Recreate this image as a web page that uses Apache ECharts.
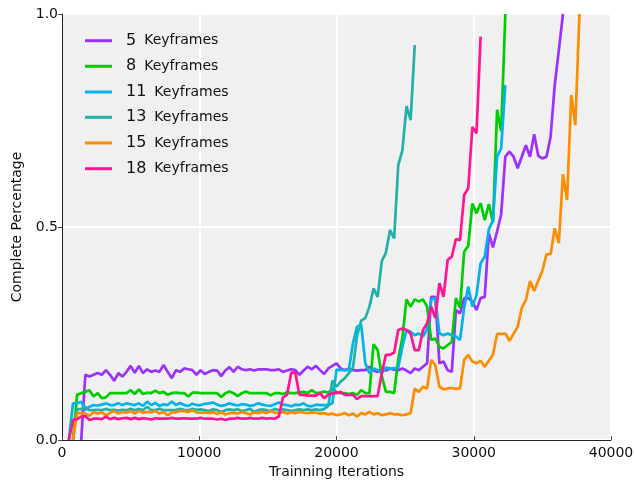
<!DOCTYPE html>
<html><head><meta charset="utf-8">
<script src="https://cdn.jsdelivr.net/npm/echarts@6/dist/echarts.min.js"></script>
<style>html,body{margin:0;padding:0;background:#fff}#c{width:634px;height:480px}</style>
</head><body><div id="c"></div>
<script>
// Training iterations: first sample at ITER_START, then every ITER_STEP
const ITER_START = 200, ITER_STEP = 300;
const seriesNames = ['5 Keyframes','8 Keyframes','11 Keyframes','13 Keyframes','15 Keyframes','18 Keyframes'];
const xTicks = [0, 10000, 20000, 30000, 40000];
const yTicks = [0, 0.5, 1.0];

const kf5 = [null,null,null,null,0,
 0.153,0.149,0.153,0.157,0.153,0.164,0.153,0.139,0.157,0.149,0.16,0.174,0.158,0.174,0.157,0.166,0.16,0.163,0.16,0.176,0.16,0.145,0.164,0.16,0.168,0.166,0.164,0.153,
 0.164,0.155,0.16,0.164,0.163,0.15,0.163,0.171,0.16,0.172,0.166,0.164,0.166,0.163,0.166,0.166,0.166,0.164,0.164,0.166,0.16,0.163,0.166,0.164,0.153,0.163,0.172,0.166,0.174,0.164,0.155,0.168,0.174,
 0.18,0.168,0.164,0.168,0.164,0.163,0.164,0.164,0.172,0.163,0.16,0.168,0.163,0.168,0.165,0.164,0.168,0.163,0.157,0.168,0.164,0.172,0.18,
 0.336,0.336,0.18,0.184,0.164,0.16,0.305,0.297,0.333,0.333,0.325,0.305,0.333,0.336,0.485,0.452,0.49,0.53,0.665,0.677,0.665,0.638,0.665,0.692,0.665,0.718,0.667,0.661,0.665,0.712,0.833,0.915,1.0];

const kf8 = [null,null,0,
 0.106,0.11,0.113,0.117,0.102,0.11,0.098,0.10,0.11,0.11,0.11,0.11,0.11,0.117,0.108,0.119,0.108,0.111,0.11,0.116,0.11,0.113,0.106,0.11,0.111,0.11,0.11,0.102,0.111,0.111,
 0.11,0.11,0.11,0.11,0.11,0.101,0.11,0.114,0.11,0.103,0.11,0.114,0.11,0.11,0.11,0.11,0.11,0.105,0.11,0.11,0.108,0.112,0.11,0.11,0.112,0.113,0.11,0.117,0.11,0.111,0.114,0.111,0.12,
 0.113,0.11,0.11,0.108,0.11,0.106,0.117,0.11,0.11,
 0.225,0.211,0.15,0.113,0.113,0.11,0.19,0.24,0.33,0.313,0.33,0.325,0.33,0.313,0.235,0.238,0.219,0.215,0.223,0.23,0.333,0.31,0.442,0.456,0.555,0.532,0.556,0.516,0.554,0.51,0.775,0.725,1.0];

const kf11 = [null,
 0,0.086,0.086,0.09,0.07,0.078,0.082,0.081,0.083,0.086,0.082,0.082,0.086,0.082,0.086,0.084,0.082,0.086,0.08,0.09,0.082,0.087,0.08,0.084,0.082,0.09,0.082,0.087,0.082,0.08,0.085,0.082,
 0.082,0.085,0.086,0.088,0.083,0.08,0.082,0.086,0.083,0.081,0.084,0.083,0.08,0.082,0.086,0.083,0.081,0.08,0.084,0.088,0.083,0.082,0.079,0.083,0.082,0.086,0.08,0.079,0.083,0.082,0.082,0.082,0.086,
 0.165,0.164,0.164,0.164,0.227,0.266,0.27,0.18,0.157,0.168,0.164,0.157,0.17,0.168,0.168,0.17,0.219,0.258,0.254,0.246,0.25,0.243,0.26,0.33,0.333,0.25,0.246,0.25,0.246,0.243,0.235,0.31,0.36,0.313,0.34,0.415,0.43,0.495,0.515,0.665,0.685,0.833];

const kf13 = [null,null,0,
 0.072,0.073,0.078,0.07,0.07,0.071,0.07,0.073,0.07,0.071,0.069,0.071,0.07,0.073,0.07,0.073,0.07,0.078,0.07,0.071,0.073,0.07,0.07,0.07,0.071,0.073,0.071,0.07,0.073,0.071,
 0.072,0.07,0.068,0.072,0.07,0.066,0.07,0.072,0.07,0.072,0.068,0.07,0.073,0.066,0.07,0.072,0.07,0.068,0.073,0.07,0.072,0.07,0.068,0.07,0.072,0.07,0.072,0.07,0.072,0.07,0.073,0.08,
 0.14,0.125,0.137,0.145,0.157,0.17,0.245,0.28,0.286,0.313,0.356,0.336,0.42,0.44,0.493,0.473,0.645,0.68,0.784,0.751,0.927];

const kf15 = [null,null,0,
 0.063,0.063,0.062,0.057,0.065,0.062,0.065,0.058,0.063,0.068,0.062,0.066,0.064,0.068,0.062,0.068,0.064,0.066,0.065,0.068,0.062,0.066,0.058,0.065,0.065,0.068,0.068,0.066,0.07,0.065,
 0.064,0.065,0.063,0.066,0.061,0.065,0.06,0.063,0.064,0.062,0.066,0.063,0.06,0.065,0.063,0.066,0.063,0.068,0.064,0.063,0.066,0.062,0.065,0.063,0.066,0.064,0.063,0.065,0.064,0.062,0.063,0.06,0.062,
 0.058,0.06,0.063,0.058,0.062,0.055,0.063,0.06,0.066,0.06,0.063,0.058,0.06,0.063,0.06,0.06,0.058,0.06,0.063,
 0.121,0.113,0.125,0.121,0.188,0.176,0.125,0.119,0.121,0.122,0.12,0.121,0.188,0.2,0.184,0.18,0.186,0.172,0.186,0.2,0.249,0.249,0.25,0.233,0.249,0.266,0.31,0.329,0.373,0.35,0.374,0.397,0.436,0.436,0.497,0.462,0.624,0.563,0.81,0.739,1.0];

const kf18 = [null,0,0.047,0.049,0.055,0.056,0.047,
 0.05,0.05,0.049,0.055,0.049,0.052,0.049,0.051,0.052,0.049,0.052,0.049,0.051,0.05,0.048,0.051,0.05,0.05,0.05,0.052,0.05,0.05,0.051,0.05,0.05,0.05,
 0.052,0.05,0.05,0.05,0.048,0.05,0.047,0.05,0.05,0.052,0.05,0.05,0.052,0.05,0.05,0.052,0.05,0.051,0.05,0.055,
 0.10,0.106,0.158,0.158,0.106,0.106,0.104,0.104,0.104,0.11,0.098,0.106,0.11,
 0.11,0.113,0.106,0.106,0.106,0.096,0.103,0.103,0.103,0.103,0.103,0.157,0.2,0.2,0.205,0.258,0.262,0.258,0.25,0.211,0.211,0.258,0.274,0.313,0.286,0.368,0.336,0.423,0.43,0.472,0.469,0.575,0.591,0.735,0.72,0.947];

const allValues = [kf5, kf8, kf11, kf13, kf15, kf18];
const colors = ['#9b30ff','#00cd00','#00b2ee','#20b2aa','#ff8c00','#ff1493'];
const FONT = 'DejaVu Sans';

function toPoints(vals){
  const out = [];
  vals.forEach((v,i)=>{ if(v!==null) out.push([ITER_START + i*ITER_STEP, v]); });
  return out;
}

const legendCenters = [37.7, 63.3, 89, 114.3, 140, 165.7];
const legends = seriesNames.map((n,i)=>({
  data:[n], left:80, top: legendCenters[i]-10, selectedMode:false,
  icon:'rect', itemWidth:27, itemHeight:3,
  formatter: name => { const p = name.split(' '); return '{n|'+p[0]+'}{k|'+p[1]+'}'; },
  textStyle:{ rich:{
    n:{fontFamily:FONT, fontSize:16, color:'#111', padding:[0,8,0,9]},
    k:{fontFamily:FONT, fontSize:14, color:'#111'}
  }}
}));

const chart = echarts.init(document.getElementById('c'), null, {renderer:'canvas'});
chart.setOption({
  animation:false,
  backgroundColor:'#ffffff',
  color: colors,
  grid:{left:62, right:23, top:14, bottom:40, show:true, backgroundColor:'#f0f0f0', borderWidth:0,
        containLabel:false, outerBoundsMode:'none'},
  legend: legends,
  xAxis:{
    type:'value', min:xTicks[0], max:xTicks[xTicks.length-1], interval:10000,
    name:'Trainning Iterations', nameLocation:'middle', nameGap:23,
    nameTextStyle:{fontFamily:FONT, fontSize:14, color:'#111'},
    axisLine:{show:true, lineStyle:{color:'#222', width:1}},
    axisTick:{show:true, inside:true, length:4, lineStyle:{color:'#444'}},
    axisLabel:{fontFamily:FONT, fontSize:14, color:'#111', margin:6, formatter:v=>String(v)},
    splitLine:{show:true, lineStyle:{color:'#ffffff', width:2}}
  },
  yAxis:{
    type:'value', min:yTicks[0], max:yTicks[yTicks.length-1], interval:0.5,
    name:'Complete Percentage', nameLocation:'middle', nameGap:35,
    nameTextStyle:{fontFamily:FONT, fontSize:14, color:'#111'},
    axisLine:{show:true, lineStyle:{color:'#222', width:1}},
    axisTick:{show:true, inside:false, length:4, lineStyle:{color:'#444'}},
    axisLabel:{fontFamily:FONT, fontSize:14, color:'#111', margin:4, formatter:v=>v.toFixed(1)},
    splitLine:{show:true, lineStyle:{color:'#ffffff', width:2}}
  },
  series: seriesNames.map((n,i)=>({
    name:n, type:'line', data:toPoints(allValues[i]),
    showSymbol:false, symbol:'none', clip:true,
    lineStyle:{width:2.7, color:colors[i]}, itemStyle:{color:colors[i]}
  }))
});
</script>
</body></html>
